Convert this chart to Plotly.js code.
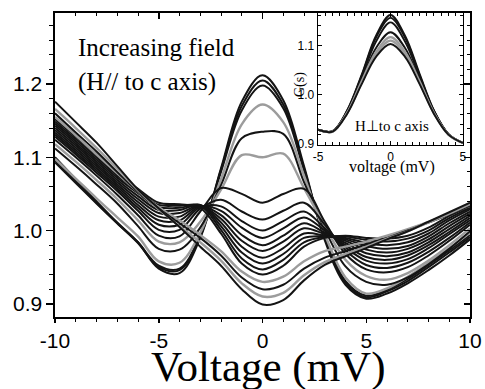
<!DOCTYPE html>
<html><head><meta charset="utf-8">
<script src="https://cdn.plot.ly/plotly-3.0.1.min.js"></script>
<style>html,body{margin:0;padding:0;background:#fff}</style>
</head><body><div id="chart" style="width:485px;height:389px"></div>
<script>
// Main panel: conductance vs voltage, increasing field (H // c axis)
const voltage = [-10,-9,-8,-7,-6,-5,-4,-3,-2,-1,0,1,2,3,4,5,6,7,8,9,10];
const g01 = [1.100,1.070,1.040,1.011,0.984,0.948,0.942,0.990,1.085,1.176,1.212,1.178,1.088,0.987,0.926,0.907,0.914,0.928,0.946,0.966,0.988];
const g02 = [1.096,1.067,1.038,1.010,0.983,0.950,0.946,0.992,1.083,1.170,1.205,1.172,1.085,0.990,0.929,0.909,0.917,0.931,0.950,0.970,0.991];
const g03 = [1.093,1.065,1.037,1.010,0.984,0.952,0.948,0.994,1.080,1.164,1.198,1.167,1.082,0.992,0.931,0.911,0.919,0.934,0.953,0.973,0.994];
const g04 = [1.098,1.071,1.044,1.018,0.992,0.958,0.956,0.997,1.070,1.145,1.172,1.148,1.075,0.995,0.936,0.914,0.921,0.937,0.956,0.976,0.997];
const g05 = [1.112,1.088,1.063,1.037,1.006,0.975,0.974,1.004,1.062,1.126,1.135,1.132,1.066,1.002,0.951,0.930,0.926,0.936,0.954,0.975,0.999];
const g06 = [1.118,1.094,1.069,1.043,1.014,0.985,0.984,1.012,1.056,1.103,1.100,1.105,1.058,1.006,0.960,0.938,0.933,0.942,0.959,0.980,1.003];
const g07 = [1.124,1.100,1.075,1.049,1.021,0.993,0.992,1.026,1.058,1.050,1.038,1.050,1.057,1.012,0.968,0.947,0.943,0.950,0.966,0.986,1.008];
const g08 = [1.128,1.104,1.079,1.054,1.027,1.001,1.001,1.030,1.042,1.026,1.015,1.027,1.038,1.008,0.973,0.953,0.949,0.956,0.971,0.990,1.011];
const g09 = [1.131,1.107,1.082,1.057,1.031,1.008,1.008,1.032,1.033,1.013,1.000,1.013,1.026,1.003,0.977,0.959,0.955,0.961,0.976,0.995,1.014];
const g10 = [1.134,1.110,1.085,1.060,1.035,1.014,1.014,1.033,1.027,1.004,0.990,1.003,1.018,1.000,0.980,0.964,0.960,0.966,0.980,0.998,1.017];
const g11 = [1.137,1.113,1.088,1.063,1.039,1.019,1.019,1.034,1.021,0.994,0.980,0.993,1.010,0.997,0.983,0.969,0.965,0.970,0.984,1.002,1.020];
const g12 = [1.140,1.116,1.091,1.066,1.043,1.024,1.024,1.034,1.016,0.986,0.972,0.985,1.003,0.995,0.986,0.974,0.970,0.975,0.988,1.006,1.023];
const g13 = [1.143,1.119,1.094,1.069,1.047,1.028,1.028,1.035,1.011,0.978,0.963,0.976,0.996,0.993,0.988,0.979,0.975,0.979,0.992,1.010,1.026];
const g14 = [1.146,1.122,1.097,1.072,1.051,1.032,1.031,1.035,1.006,0.970,0.955,0.968,0.990,0.992,0.990,0.983,0.980,0.984,0.996,1.014,1.029];
const g15 = [1.149,1.125,1.100,1.075,1.054,1.035,1.034,1.034,1.001,0.962,0.947,0.960,0.984,0.991,0.992,0.987,0.985,0.989,1.000,1.017,1.031];
const g16 = [1.152,1.128,1.103,1.078,1.057,1.038,1.036,1.031,0.996,0.955,0.940,0.952,0.978,0.990,0.993,0.990,0.989,0.993,1.004,1.020,1.033];
const g17 = [1.155,1.130,1.104,1.078,1.053,1.032,1.014,0.994,0.972,0.944,0.930,0.937,0.958,0.972,0.978,0.985,0.993,1.002,1.012,1.023,1.034];
const g18 = [1.160,1.134,1.108,1.080,1.053,1.030,1.010,0.990,0.966,0.936,0.920,0.926,0.948,0.963,0.972,0.981,0.990,1.000,1.011,1.022,1.034];
const g19 = [1.166,1.140,1.113,1.084,1.055,1.029,1.006,0.984,0.959,0.928,0.910,0.915,0.939,0.957,0.968,0.978,0.989,0.999,1.011,1.023,1.036];
const g20 = [1.176,1.148,1.120,1.088,1.056,1.030,1.005,0.978,0.952,0.920,0.899,0.905,0.932,0.953,0.965,0.976,0.988,0.999,1.012,1.025,1.038];
const mainSeries = [g01,g02,g03,g04,g05,g06,g07,g08,g09,g10,g11,g12,g13,g14,g15,g16,g17,g18,g19,g20];
const mainGray = [3,5,16,18];   // indices of curves drawn in grey

// Inset: H perpendicular to c axis
const insetVoltage = [-5,-4,-3,-2,-1,0,1,2,3,4,5];
const s1 = [0.929,0.926,0.968,1.040,1.120,1.162,1.120,1.043,0.968,0.920,0.902];
const s2 = [0.929,0.926,0.967,1.038,1.116,1.156,1.116,1.040,0.967,0.920,0.902];
const s3 = [0.929,0.926,0.966,1.035,1.108,1.147,1.108,1.037,0.966,0.920,0.902];
const s4 = [0.929,0.925,0.964,1.030,1.095,1.127,1.095,1.031,0.964,0.919,0.902];
const s5 = [0.929,0.925,0.963,1.027,1.087,1.117,1.087,1.028,0.963,0.919,0.902];
const s6 = [0.929,0.925,0.962,1.024,1.082,1.110,1.082,1.025,0.962,0.919,0.902];
const s7 = [0.929,0.925,0.961,1.021,1.077,1.103,1.077,1.022,0.961,0.919,0.902];
const insetSeries = [s1,s2,s3,s4,s5,s6,s7];
const insetGray = [4,5];

const mainTicksX = [-10,-5,0,5,10];
const mainTicksY = [0.9,1.0,1.1,1.2];
const insetTicksX = [-5,0,5];
const insetTicksY = [0.9,1.0,1.1];

const DARK = '#141414', GRAY = '#9c9c9c';
const traces = [];
mainSeries.forEach((g,i)=>{
  const gray = mainGray.includes(i);
  traces.push({x:voltage, y:g, mode:'lines', xaxis:'x', yaxis:'y', hoverinfo:'skip',
    line:{color: gray?GRAY:DARK, width: gray?2.4:2, shape:'spline', smoothing:1}});
});
// empty trace to create the mirrored top/right axes with inward ticks
traces.push({x:[], y:[], mode:'lines', xaxis:'x3', yaxis:'y3', hoverinfo:'skip', showlegend:false});
insetSeries.forEach((g,i)=>{
  const gray = insetGray.includes(i);
  traces.push({x:insetVoltage, y:g, mode:'lines', xaxis:'x2', yaxis:'y2', hoverinfo:'skip',
    line:{color: gray?GRAY:DARK, width: gray?2.2:1.9, shape:'spline', smoothing:1}});
});

const SANS = 'Liberation Sans, Arial, sans-serif';
const SERIF = 'Liberation Serif, Times New Roman, serif';
const axBase = {showgrid:false, zeroline:false, showline:true, linecolor:'#000', tickcolor:'#000'};

const layout = {
  width:485, height:389,
  margin:{l:55, r:15, t:13, b:72},
  paper_bgcolor:'#fff', plot_bgcolor:'#fff',
  showlegend:false,
  font:{family:SANS, color:'#000'},
  xaxis:Object.assign({}, axBase, {domain:[0,1], anchor:'y', range:[-10,10],
    tickvals:mainTicksX, ticktext:mainTicksX.map(String), ticks:'outside', ticklen:4, tickwidth:1.5, linewidth:1.6,
    tickfont:{size:21, family:SANS},
    minor:{dtick:1, tick0:0, ticks:'outside', ticklen:3, tickwidth:1, tickcolor:'#000'}}),
  yaxis:Object.assign({}, axBase, {domain:[0,1], anchor:'x', range:[0.882,1.297],
    tickvals:mainTicksY, ticktext:mainTicksY.map(v=>v.toFixed(1)), ticks:'outside', ticklen:7, tickwidth:1.5, linewidth:1.6,
    tickfont:{size:21, family:SANS},
    minor:{dtick:0.02, tick0:0.9, ticks:'outside', ticklen:4, tickwidth:1, tickcolor:'#000'}}),
  xaxis3:Object.assign({}, axBase, {overlaying:'x', anchor:'y3', side:'top', range:[-10,10],
    tickvals:mainTicksX, showticklabels:false, ticks:'inside', ticklen:6, tickwidth:1.5, linewidth:2,
    minor:{dtick:1, tick0:0, ticks:'inside', ticklen:3, tickwidth:1, tickcolor:'#000'}}),
  yaxis3:Object.assign({}, axBase, {overlaying:'y', anchor:'x3', side:'right', range:[0.882,1.297],
    tickvals:mainTicksY, showticklabels:false, ticks:'inside', ticklen:6, tickwidth:1.5, linewidth:2,
    minor:{dtick:0.02, tick0:0.9, ticks:'inside', ticklen:3, tickwidth:1, tickcolor:'#000'}}),
  xaxis2:Object.assign({}, axBase, {domain:[0.634,0.983], anchor:'y2', range:[-5,5],
    tickvals:insetTicksX, ticktext:insetTicksX.map(String), ticks:'inside', ticklen:4, tickwidth:1, linewidth:1.5,
    mirror:'allticks', tickfont:{size:12, family:SANS},
    minor:{dtick:0.5, tick0:0, ticks:'inside', ticklen:2.5, tickwidth:1, tickcolor:'#000'}}),
  yaxis2:Object.assign({}, axBase, {domain:[0.566,1], anchor:'x2', range:[0.898,1.166],
    tickvals:insetTicksY, ticktext:insetTicksY.map(v=>v.toFixed(1)), ticks:'inside', ticklen:4, tickwidth:1, linewidth:1.5,
    mirror:'allticks', tickfont:{size:12, family:SANS},
    minor:{dtick:0.02, tick0:0.9, ticks:'inside', ticklen:2.5, tickwidth:1, tickcolor:'#000'}}),
  annotations:[
    {text:'Voltage (mV)', xref:'paper', yref:'paper', x:(268-55)/415, y:(317-341)/304, xanchor:'center', yanchor:'top', showarrow:false, font:{family:SERIF, size:43, color:'#000'}},
    {text:'Increasing field', xref:'paper', yref:'paper', x:0.0506, y:0.888, xanchor:'left', yanchor:'middle', showarrow:false, font:{family:SERIF, size:25, color:'#000'}},
    {text:'(H// to c axis)', xref:'paper', yref:'paper', x:0.0506, y:0.773, xanchor:'left', yanchor:'middle', showarrow:false, font:{family:SERIF, size:25, color:'#000'}},
    {text:'H\u22a5to c axis', xref:'paper', yref:'paper', x:0.812, y:0.628, xanchor:'center', yanchor:'middle', showarrow:false, font:{family:SERIF, size:15, color:'#000'}},
    {text:'voltage (mV)', xref:'paper', yref:'paper', x:0.812, y:(317-167)/304, xanchor:'center', yanchor:'middle', showarrow:false, font:{family:SERIF, size:16, color:'#000'}},
    {text:'G(s)', xref:'paper', yref:'paper', x:0.590, y:0.766, textangle:-90, xanchor:'center', yanchor:'middle', showarrow:false, font:{family:SERIF, size:14, color:'#000'}}
  ]
};
Plotly.newPlot('chart', traces, layout, {staticPlot:true, displayModeBar:false});
</script></body></html>
